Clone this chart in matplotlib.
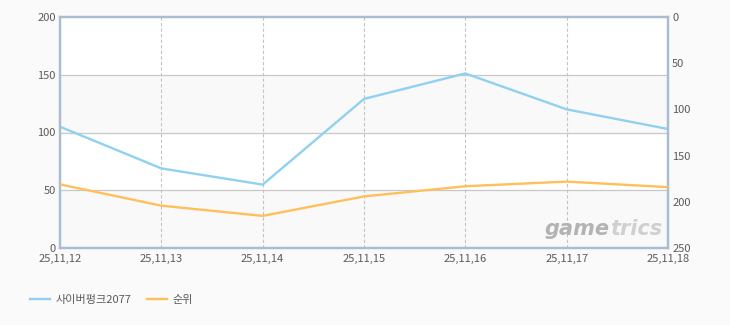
import matplotlib
matplotlib.use("Agg")
import matplotlib.pyplot as plt

plt.rcParams['font.family'] = ['Noto Sans CJK KR', 'DejaVu Sans']

dates = ["25,11,12", "25,11,13", "25,11,14", "25,11,15", "25,11,16", "25,11,17", "25,11,18"]
game_values = [105, 69, 55, 129, 151, 120, 103]
rank_values = [181, 204, 215, 194, 183, 178, 184]
left_ticks = [0, 50, 100, 150, 200]
right_ticks = [0, 50, 100, 150, 200, 250]
game_name = "사이버펑크2077"
rank_name = "순위"

blue = "#8fd1f1"
orange = "#ffc05c"
spine_c = "#a9bcd0"
txt_c = "#5a5a5a"

fig = plt.figure(figsize=(7.3, 3.25), dpi=100, facecolor="#fafafa")
ax = fig.add_axes([60/730, 1-248.3/325, (668-60)/730, (248.3-16.7)/325])
ax.set_facecolor("white")
x = list(range(len(dates)))

# alternating bands
for lo, hi in [(0, 50), (100, 150)]:
    ax.axhspan(lo, hi, color="#f9f9f9", zorder=0, lw=0)
for y in [50, 100, 150]:
    ax.axhline(y, color="#c8c8c8", lw=0.9, zorder=1)
for xi in x[1:-1]:
    ax.axvline(xi, color="#c4c4c4", lw=0.8, ls=(0, (3, 2)), zorder=1)

ax.plot(x, game_values, color=blue, lw=1.7, zorder=3, label=game_name)
ax.set_xlim(0, len(dates)-1)
ax.set_ylim(0, 200)
ax.set_yticks(left_ticks)
ax.set_xticks(x)
ax.set_xticklabels(dates)

ax2 = ax.twinx()
ax2.plot(x, rank_values, color=orange, lw=1.7, zorder=3, label=rank_name)
ax2.set_ylim(250, 0)
ax2.set_yticks(right_ticks)

for a in (ax, ax2):
    for s in a.spines.values():
        s.set_color(spine_c)
        s.set_linewidth(1.6)
    a.tick_params(length=0, labelsize=8, colors=txt_c)
ax.tick_params(axis='y', pad=3)
ax.tick_params(axis='x', pad=4)
ax2.tick_params(axis='y', pad=3)

# watermark
ax.text((610 - 60) / 608, 0.085, "game", transform=ax.transAxes, ha="right", va="center",
        fontsize=15, fontstyle="italic", fontweight="bold", color="#b3b3b3",
        family="DejaVu Sans", zorder=2)
ax.text((610 - 60) / 608, 0.085, "trics", transform=ax.transAxes, ha="left", va="center",
        fontsize=15, fontstyle="italic", fontweight="bold", color="#d0d0d0",
        family="DejaVu Sans", zorder=2)

h1, l1 = ax.get_legend_handles_labels()
h2, l2 = ax2.get_legend_handles_labels()
fig.legend(h1 + h2, l1 + l2, loc="center left", bbox_to_anchor=(20/730, 1-300/325),
           ncol=2, frameon=False, fontsize=8, handlelength=1.8, handletextpad=0.5,
           columnspacing=1.4, labelcolor=txt_c)

fig.savefig("out.png", dpi=100, facecolor=fig.get_facecolor())
